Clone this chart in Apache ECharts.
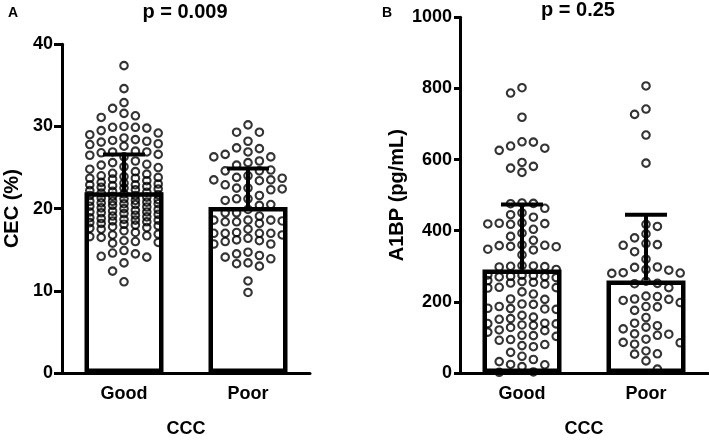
<!DOCTYPE html>
<html><head><meta charset="utf-8">
<script src="https://cdn.jsdelivr.net/npm/echarts@6/dist/echarts.min.js"></script>
<style>html,body{margin:0;padding:0;background:#fff}#c{width:709px;height:443px}</style>
</head><body><div id="c"></div>
<script>
const categories = ['Good', 'Poor'];
const panelLabels = ['A', 'B'];
const pTexts = ['p = 0.009', 'p = 0.25'];
const yTitles = ['CEC (%)', 'A1BP (pg/mL)'];
const xTitle = 'CCC';
const cecTicks = [0, 10, 20, 30, 40];
const a1bpTicks = [0, 200, 400, 600, 800, 1000];
const cecMean = [22.0, 20.2];
const cecSD = [4.6, 4.7];
const a1bpMean = [291, 260];
const a1bpSD = [183, 185];

const cecGood = [37.4, 34.6, 32.9, 32.2, 31.6, 31.3, 31.1,
  30.0, 29.9, 29.8, 29.9, 29.5, 29.2, 29.0,
  28.6, 28.4, 28.3, 28.2, 28.1, 27.9, 27.8, 27.6,
  27.0, 26.9, 26.8, 26.9, 26.6, 26.5, 26.3,
  25.8, 25.6, 25.4, 25.3, 25.0, 25.1, 24.8, 24.5,
  24.3, 24.2, 24.0, 23.9, 23.7, 23.8, 23.6, 23.7, 23.4,
  23.2, 23.1, 22.9, 23.0, 22.9, 22.7, 22.8, 22.5, 22.6, 22.3, 22.4, 22.2,
  22.1, 21.9, 22.0, 21.8, 21.6, 21.7, 21.5, 21.6, 21.3, 21.4, 21.1, 21.2,
  20.9, 21.0, 20.8, 20.9, 20.6, 20.7, 20.5, 20.6, 20.3, 20.4, 20.1, 20.2, 19.9,
  20.0, 19.7, 19.8, 19.5, 19.6, 19.6, 19.3, 19.4, 19.1, 19.2, 18.9,
  19.0, 18.7, 18.8, 18.6, 18.5, 18.6, 18.3, 18.4, 18.1, 18.2, 17.9,
  18.0, 17.7, 17.8, 17.5, 17.6, 17.3, 17.1,
  16.9, 16.7, 16.6, 16.8, 16.5,
  16.1, 15.9, 16.0, 15.8,
  14.9, 14.6, 14.5, 14.2, 14.1, 13.4, 12.4, 11.1];

const cecPoor = [30.2, 29.3, 29.3, 28.2, 27.3, 27.4, 26.3, 26.6, 26.9, 26.3,
  25.6, 25.3, 25.8, 24.6, 24.6, 24.7, 23.5, 24.0, 23.7, 23.8, 23.4, 23.5,
  22.9, 22.5, 22.5, 21.6, 22.4, 22.3, 21.0, 21.2, 21.2, 20.5, 20.4,
  19.5, 19.5, 19.9, 19.1, 18.2, 18.6, 18.5, 18.4, 18.4, 18.6, 18.6, 17.5,
  16.8, 17.0, 17.0, 17.0, 17.0, 17.1, 16.4, 16.2, 16.0, 15.7, 15.7, 16.1,
  14.1, 14.5, 14.3, 14.7, 13.9, 13.4, 13.0, 13.3, 11.2, 9.8];

const a1bpGood = [802, 787, 719, 649, 632, 626, 638, 650, 581, 576, 592, 564,
  477, 478, 476, 463, 450, 438, 445, 421, 419, 420, 422, 418, 404,
  384, 373, 393, 359, 355, 346, 360, 348, 356, 358, 332,
  301, 299, 300, 302, 298, 291, 275, 272, 270, 276, 268, 274, 271,
  260, 255, 257, 253, 250, 239, 240, 228, 241, 222, 207, 208,
  194, 193, 180, 181, 179, 182, 187, 162, 157, 153, 151,
  135, 139, 140, 138, 128, 134, 119, 121, 115,
  94, 106, 105, 92, 103, 80, 74, 77, 47, 58, 38, 24, 18, 23, 32, 2, 3];

const a1bpPoor = [807, 742, 727, 669, 590, 418, 412, 391, 380, 361, 359, 364, 341, 320,
  298, 289, 282, 281, 280, 291, 297, 252, 240, 251, 258,
  216, 207, 198, 187, 186, 204, 208, 215, 176, 156,
  140, 129, 124, 133, 109, 106, 95, 110, 85, 81, 86, 62, 53, 54, 34, 11];

const FONT = "'Liberation Sans', Arial, sans-serif";
const chart = echarts.init(document.getElementById('c'), null, {renderer: 'canvas'});

function errItem(params, api) {
  const x = api.value(0), m = api.value(1), s = api.value(2);
  const base = api.coord([x, m]);
  const top = api.coord([x, m + s]);
  const hw = 21;
  return {type: 'group', children: [
    {type: 'line', shape: {x1: base[0], y1: base[1], x2: top[0], y2: top[1]}, style: {stroke: '#000', lineWidth: 4}},
    {type: 'line', shape: {x1: top[0] - hw, y1: top[1], x2: top[0] + hw, y2: top[1]}, style: {stroke: '#000', lineWidth: 4}}
  ]};
}

const axisLineStyle = {color: '#000', width: 3};
const txt = {color: '#000', fontWeight: 'bold', fontFamily: FONT};

function catAxis(g, gap) {
  return {type: 'category', gridIndex: g, data: categories, boundaryGap: true,
    axisLine: {onZero: false, lineStyle: axisLineStyle},
    axisTick: {alignWithLabel: true, length: 7, lineStyle: axisLineStyle},
    axisLabel: Object.assign({fontSize: 18, margin: 12}, txt),
    name: xTitle, nameLocation: 'middle', nameGap: gap,
    nameTextStyle: Object.assign({fontSize: 18}, txt)};
}
function valX(g) {
  return {type: 'value', gridIndex: g, min: -0.5, max: 1.5, show: false,
    axisLine: {onZero: false}};
}
function yAx(g, ticks, name, gap, tickLen, margin) {
  return {type: 'value', gridIndex: g, min: ticks[0], max: ticks[ticks.length - 1],
    interval: ticks[1] - ticks[0],
    axisLine: {show: true, onZero: false, lineStyle: axisLineStyle},
    axisTick: {show: true, length: tickLen, lineStyle: axisLineStyle},
    splitLine: {show: false},
    axisLabel: Object.assign({fontSize: 18, margin: margin, formatter: v => String(v)}, txt),
    name: name, nameLocation: 'middle', nameGap: gap, nameRotate: 90,
    nameTextStyle: Object.assign({fontSize: 20}, txt)};
}

const dotStyle = {color: 'rgba(0,0,0,0)', borderColor: '#000', borderWidth: 2.1};

function buildOption(sc) {
  const series = [];
  const panels = [
    {mean: cecMean, sd: cecSD, g: 0, xc: 0, xv: 1, y: 0, groups: sc[0]},
    {mean: a1bpMean, sd: a1bpSD, g: 1, xc: 2, xv: 3, y: 1, groups: sc[1]}
  ];
  panels.forEach(p => {
    series.push({type: 'bar', xAxisIndex: p.xc, yAxisIndex: p.y, data: p.mean, barWidth: 79,
      itemStyle: {color: '#fff', borderColor: '#000', borderWidth: 4.5}, z: 1, silent: true, animation: false});
    p.groups.forEach(d => {
      series.push({type: 'scatter', xAxisIndex: p.xv, yAxisIndex: p.y, data: d, symbol: 'circle',
        symbolSize: 7.5, itemStyle: dotStyle, z: 2, silent: true, animation: false});
    });
    series.push({type: 'custom', xAxisIndex: p.xv, yAxisIndex: p.y, renderItem: errItem,
      data: p.mean.map((m, i) => [i, m, p.sd[i]]), z: 3, silent: true, animation: false});
  });
  return {
    animation: false,
    backgroundColor: '#fff',
    title: [
      {text: panelLabels[0], left: 8, top: 6, padding: 0, textStyle: Object.assign({fontSize: 14}, txt)},
      {text: pTexts[0], left: 185, top: 2, padding: 0, textAlign: 'center', textStyle: Object.assign({fontSize: 20}, txt)},
      {text: panelLabels[1], left: 382, top: 6, padding: 0, textStyle: Object.assign({fontSize: 14}, txt)},
      {text: pTexts[1], left: 578, top: 0, padding: 0, textAlign: 'center', textStyle: Object.assign({fontSize: 20}, txt)}
    ],
    grid: [
      {left: 62, width: 248, top: 44.3, height: 339},
      {left: 460, width: 248, top: 17.3, height: 368.4}
    ],
    xAxis: [catAxis(0, 47), valX(0), catAxis(1, 47), valX(1)],
    yAxis: [yAx(0, cecTicks, yTitles[0], 40, 8, 9), yAx(1, a1bpTicks, yTitles[1], 53, 6, 8)],
    series: series
  };
}

chart.setOption(buildOption([[[], []], [[], []]]));

function swarm(values, center, xAxisIndex, yAxisIndex) {
  const colPx = 11.4, gap = 9.5, maxCol = 3;
  const pxPerX = chart.convertToPixel({xAxisIndex: xAxisIndex}, 1) - chart.convertToPixel({xAxisIndex: xAxisIndex}, 0);
  const sorted = values.slice().sort((a, b) => b - a);
  const placed = [];
  const out = [];
  sorted.forEach(v => {
    const py = chart.convertToPixel({yAxisIndex: yAxisIndex}, v);
    let left = 0, right = 0;
    placed.forEach(p => { if (p.col < 0) left++; else if (p.col > 0) right++; });
    const order = [0];
    for (let k = 1; k <= maxCol; k++) {
      if (left <= right) order.push(-k, k); else order.push(k, -k);
    }
    let chosen = null, bestCol = 0, bestD = -1;
    for (const k of order) {
      let md = Infinity;
      placed.forEach(p => { if (p.col === k) md = Math.min(md, Math.abs(p.py - py)); });
      if (md >= gap) { chosen = k; break; }
      if (md > bestD) { bestD = md; bestCol = k; }
    }
    if (chosen === null) chosen = bestCol;
    placed.push({col: chosen, py: py});
    out.push([center + chosen * colPx / pxPerX, v]);
  });
  return out;
}

const sc = [
  [swarm(cecGood, 0, 1, 0), swarm(cecPoor, 1, 1, 0)],
  [swarm(a1bpGood, 0, 3, 1), swarm(a1bpPoor, 1, 3, 1)]
];
chart.setOption(buildOption(sc), true);
</script>
</body></html>
